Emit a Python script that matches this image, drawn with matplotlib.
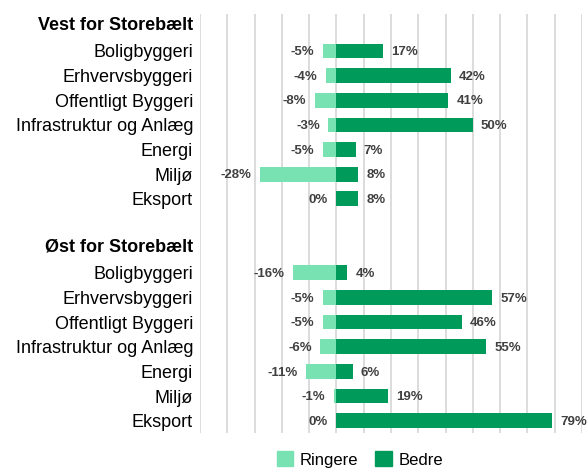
import matplotlib.pyplot as plt
from matplotlib.patches import Patch
from matplotlib.transforms import ScaledTranslation

plt.rcParams['font.family'] = ['Liberation Sans', 'DejaVu Sans']

LIGHT = '#78E2B2'
DARK = '#009B5B'
LABEL_COLOR = '#404040'

categories = ['Boligbyggeri', 'Erhvervsbyggeri', 'Offentligt Byggeri',
              'Infrastruktur og Anlæg', 'Energi', 'Miljø', 'Eksport']
groups = ['Vest for Storebælt', 'Øst for Storebælt']

vest_ringere = [-5, -4, -8, -3, -5, -28, 0]
vest_bedre = [17, 42, 41, 50, 7, 8, 8]
oest_ringere = [-16, -5, -5, -6, -11, -1, 0]
oest_bedre = [4, 57, 46, 55, 6, 19, 79]

# build row layout: header, categories, blank, header, categories
labels = []
ringere = []
bedre = []
is_header = []
for i, (g, r, b) in enumerate(zip(groups, [vest_ringere, oest_ringere], [vest_bedre, oest_bedre])):
    if i > 0:
        labels.append('')
        ringere.append(None)
        bedre.append(None)
        is_header.append(False)
    labels.append(g)
    ringere.append(None)
    bedre.append(None)
    is_header.append(True)
    for c, rv, bv in zip(categories, r, b):
        labels.append(c)
        ringere.append(rv)
        bedre.append(bv)
        is_header.append(False)

fig = plt.figure(figsize=(5.87, 4.68), dpi=100)
ax = fig.add_axes([200 / 587, 1 - 433 / 468, 382 / 587, 419 / 468])

for y, (rv, bv) in enumerate(zip(ringere, bedre)):
    if rv is None:
        continue
    ax.barh(y, rv, height=0.6, color=LIGHT, zorder=3)
    ax.barh(y, bv, height=0.6, color=DARK, zorder=3)
    ax.text(rv - 3.0, y + 0.05, f'{rv}%', ha='right', va='center', fontsize=9.5,
            fontweight='bold', color=LABEL_COLOR)
    ax.text(bv + 3.0, y + 0.05, f'{bv}%', ha='left', va='center', fontsize=9.5,
            fontweight='bold', color=LABEL_COLOR)

ax.set_xlim(-50, 90)
ax.set_ylim(len(labels) - 0.5, -0.5)
ax.set_xticks(range(-50, 91, 10))
ax.set_xticklabels([])
ax.tick_params(axis='x', length=0)
ax.tick_params(axis='y', length=0, pad=5)
ax.grid(axis='x', color='#D9D9D9', linewidth=1.3, zorder=0)
for s in ax.spines.values():
    s.set_visible(False)

ax.set_yticks(range(len(labels)))
ax.set_yticklabels(labels, fontsize=13)
shift_up = ScaledTranslation(0, 3 / 100, fig.dpi_scale_trans)
for tl, h in zip(ax.get_yticklabels(), is_header):
    if h:
        tl.set_fontweight('bold')
        tl.set_transform(tl.get_transform() + shift_up)

handles = [Patch(color=LIGHT, label='Ringere'), Patch(color=DARK, label='Bedre')]
fig.legend(handles=handles, loc='center', bbox_to_anchor=(360 / 587, 0.018), ncol=2,
           frameon=False, fontsize=12, handlelength=1.0, handleheight=1.0,
           handletextpad=0.4, columnspacing=1.0)

fig.savefig('out.png', dpi=100)
